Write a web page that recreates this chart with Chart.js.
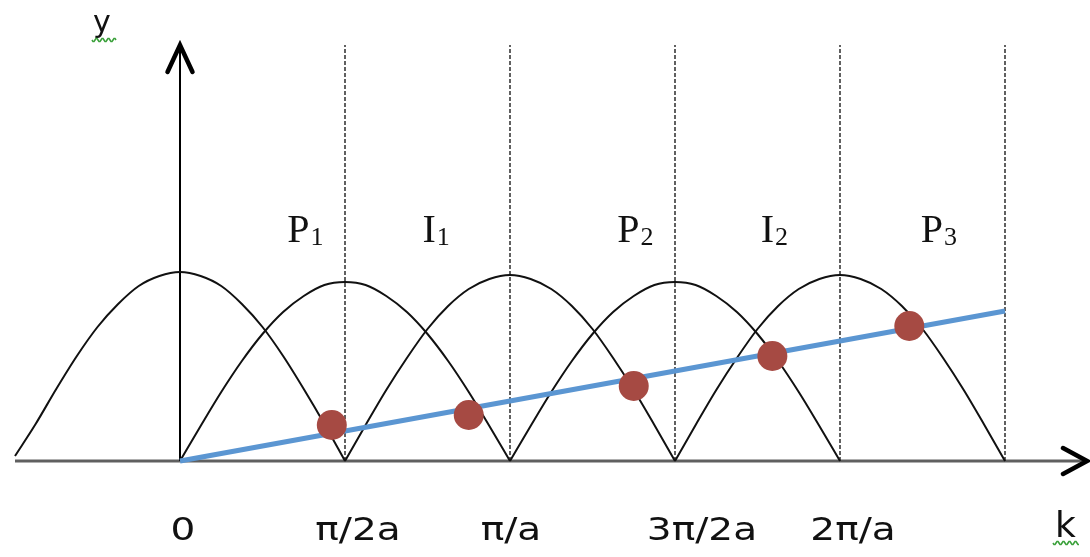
<!DOCTYPE html>
<html>
<head>
<meta charset="utf-8">
<script src="https://cdn.jsdelivr.net/npm/chart.js@4"></script>
<style>
  html, body { margin: 0; padding: 0; background: #fff; }
  #wrap { width: 1090px; height: 557px; }
</style>
</head>
<body>
<div id="wrap"><canvas id="bandChart" width="1090" height="557"></canvas></div>
<script>
/* k in units of pi/2a, y in arbitrary units */
const tickValues = [0, 1, 2, 3, 4];
const tickLabels = ['0', 'π/2a', 'π/a', '3π/2a', '2π/a'];
const boundaries = [1, 2, 3, 4, 5];
const boundaryTop = 4.16;

// humps, sampled every eighth of a unit from the left foot
const arcStarts = [-1, 0, 1, 2, 3];
const arcStep = 0.125;
const arcHeights = [
  [0.05, 0.37, 0.72, 1.05, 1.34, 1.57, 1.75, 1.85, 1.89, 1.85, 1.75, 1.57, 1.34, 1.05, 0.72, 0.37, 0],
  [0, 0.35, 0.69, 1.00, 1.27, 1.49, 1.65, 1.76, 1.79, 1.76, 1.65, 1.49, 1.27, 1.00, 0.69, 0.35, 0],
  [0, 0.36, 0.71, 1.03, 1.32, 1.55, 1.72, 1.82, 1.86, 1.82, 1.72, 1.55, 1.32, 1.03, 0.71, 0.36, 0],
  [0, 0.35, 0.69, 1.00, 1.27, 1.49, 1.65, 1.76, 1.79, 1.76, 1.65, 1.49, 1.27, 1.00, 0.69, 0.35, 0],
  [0, 0.36, 0.71, 1.03, 1.32, 1.55, 1.72, 1.82, 1.86, 1.82, 1.72, 1.55, 1.32, 1.03, 0.71, 0.36, 0]
];

const lineK = [0, 5];
const lineY = [0, 1.5];

const dotK = [0.92, 1.75, 2.75, 3.59, 4.42];
const dotY = [0.36, 0.46, 0.75, 1.05, 1.35];

const zoneNames = ['P', 'I', 'P', 'I', 'P'];
const zoneSubs = ['1', '1', '2', '2', '3'];
const zoneK = [0.65, 1.47, 2.65, 3.52, 4.49];

// small nudges (px) so the tick texts sit where the drawing had them
const labelShift = [3, 13, 1, 27, 13];

/* datasets */
const datasets = [];

arcHeights.forEach((hs, i) => {
  datasets.push({
    type: 'line',
    data: hs.map((h, j) => ({ x: arcStarts[i] + j * arcStep, y: h })),
    borderColor: '#111',
    borderWidth: 2,
    pointRadius: 0,
    cubicInterpolationMode: 'monotone',
    order: 3
  });
});

const dashPts = [];
boundaries.forEach(b => {
  dashPts.push({ x: b, y: 0 }, { x: b, y: boundaryTop }, { x: b, y: null });
});
datasets.push({
  type: 'line',
  data: dashPts,
  borderColor: '#3a3a3a',
  borderWidth: 1.6,
  borderDash: [4, 2],
  pointRadius: 0,
  spanGaps: false,
  order: 4
});

datasets.push({
  type: 'line',
  data: lineK.map((k, i) => ({ x: k, y: lineY[i] })),
  borderColor: '#5b96d2',
  borderWidth: 5,
  pointRadius: 0,
  order: 1
});

datasets.push({
  type: 'scatter',
  data: dotK.map((k, i) => ({ x: k, y: dotY[i] })),
  backgroundColor: '#a64a43',
  borderWidth: 0,
  pointRadius: 15,
  order: 0
});

function squiggle(ctx, x1, x2, yc) {
  ctx.beginPath();
  for (let px = x1; px <= x2; px += 1) {
    const py = yc + 1.8 * Math.sin((px - x1) / 6 * 2 * Math.PI);
    if (px === x1) ctx.moveTo(px, py); else ctx.lineTo(px, py);
  }
  ctx.strokeStyle = '#3aa03a';
  ctx.lineWidth = 1.6;
  ctx.stroke();
}

const diagram = {
  id: 'diagram',
  beforeDatasetsDraw(chart) {
    const { ctx, scales: { x, y } } = chart;
    const y0 = y.getPixelForValue(0);
    const x0 = x.getPixelForValue(0);
    const tipX = x.getPixelForValue(5.497);
    const tipY = y.getPixelForValue(4.16);
    ctx.save();
    // k axis
    ctx.strokeStyle = '#606060';
    ctx.lineWidth = 3;
    ctx.beginPath();
    ctx.moveTo(x.getPixelForValue(-1), y0);
    ctx.lineTo(tipX - 2, y0);
    ctx.stroke();
    // y axis
    ctx.strokeStyle = '#000';
    ctx.lineWidth = 2;
    ctx.beginPath();
    ctx.moveTo(x0, y0);
    ctx.lineTo(x0, tipY + 2);
    ctx.stroke();
    // arrow heads
    ctx.lineWidth = 4.5;
    ctx.lineCap = 'round';
    ctx.lineJoin = 'miter';
    ctx.beginPath();
    ctx.moveTo(x0 - 12.5, tipY + 27);
    ctx.lineTo(x0, tipY);
    ctx.lineTo(x0 + 12.5, tipY + 27);
    ctx.stroke();
    ctx.beginPath();
    ctx.moveTo(tipX - 24, y0 - 13);
    ctx.lineTo(tipX, y0);
    ctx.lineTo(tipX - 24, y0 + 13);
    ctx.stroke();
    ctx.restore();
  },
  afterDraw(chart) {
    const { ctx, scales: { x } } = chart;
    ctx.save();
    ctx.fillStyle = '#111';
    // tick labels
    ctx.font = '32px "DejaVu Sans"';
    ctx.textAlign = 'center';
    ctx.textBaseline = 'alphabetic';
    tickValues.forEach((v, i) => {
      ctx.save();
      ctx.translate(x.getPixelForValue(v) + labelShift[i], 540);
      ctx.scale(1.22, 1);
      ctx.fillText(tickLabels[i], 0, 0);
      ctx.restore();
    });
    // zone names with subscripts
    ctx.textAlign = 'left';
    zoneNames.forEach((n, i) => {
      const px = x.getPixelForValue(zoneK[i]);
      ctx.font = '40px "Liberation Serif"';
      ctx.fillText(n, px, 242);
      const w = ctx.measureText(n).width;
      ctx.font = '26px "Liberation Serif"';
      ctx.fillText(zoneSubs[i], px + w + 1, 245);
    });
    // axis letters
    ctx.font = '30px "DejaVu Sans"';
    ctx.fillText('y', 93, 32);
    ctx.font = '36px "DejaVu Sans"';
    ctx.fillText('k', 1055, 537);
    squiggle(ctx, 92, 116, 40);
    squiggle(ctx, 1053, 1079, 543);
    ctx.restore();
  }
};

new Chart(document.getElementById('bandChart'), {
  type: 'line',
  data: { datasets },
  options: {
    responsive: false,
    animation: false,
    layout: { autoPadding: false, padding: 0 },
    plugins: { legend: { display: false }, tooltip: { enabled: false } },
    scales: {
      x: { type: 'linear', display: false, min: -180 / 165, max: 910 / 165 },
      y: { type: 'linear', display: false, min: -0.96, max: 4.61 }
    }
  },
  plugins: [diagram]
});
</script>
</body>
</html>
